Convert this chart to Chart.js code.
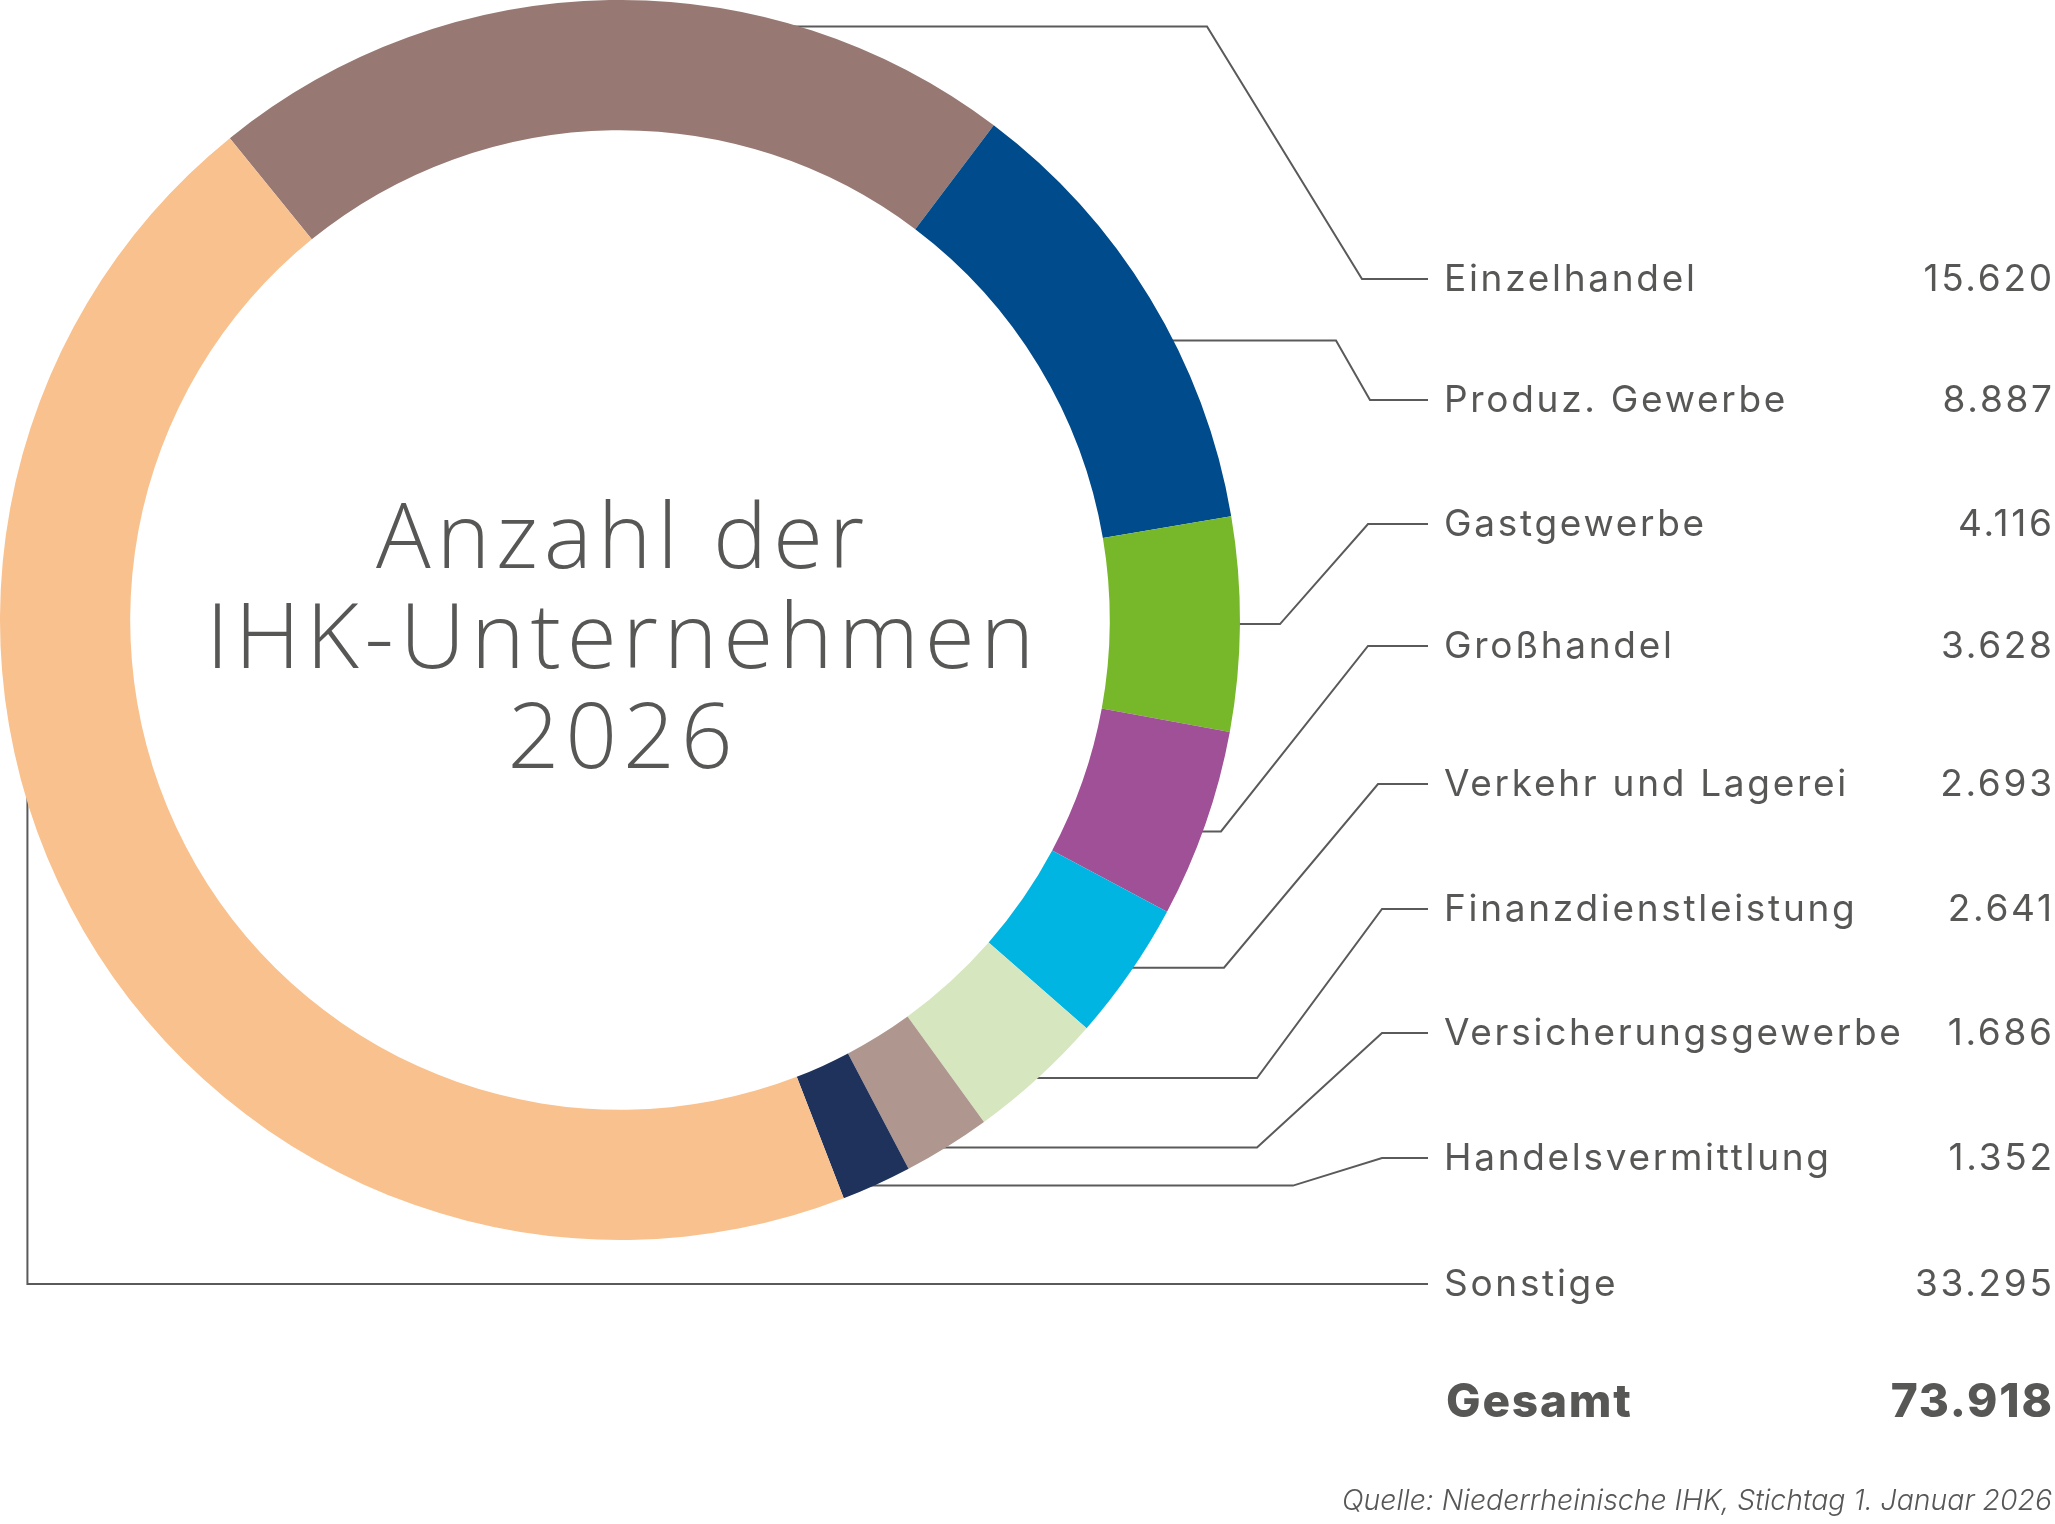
<!DOCTYPE html>
<html lang="de">
<head>
<meta charset="utf-8">
<title>Anzahl der IHK-Unternehmen 2026</title>
<script src="https://cdn.jsdelivr.net/npm/chart.js@4.4.1/dist/chart.umd.min.js"></script>
<style>
  html, body { margin: 0; padding: 0; background: #ffffff; }
  #wrap { width: 2055px; height: 1524px; position: relative; }
  canvas { display: block; }
</style>
</head>
<body>
<div id="wrap"><canvas id="c" width="2055" height="1524"></canvas></div>
<script>
// ---- data ----
const categories = ['Einzelhandel', 'Produz. Gewerbe', 'Gastgewerbe', 'Großhandel', 'Verkehr und Lagerei',
  'Finanzdienstleistung', 'Versicherungsgewerbe', 'Handelsvermittlung', 'Sonstige'];
const values = [15620, 8887, 4116, 3628, 2693, 2641, 1686, 1352, 33295];
const colors = ['#977872', '#004b8b', '#76b82a', '#a05096', '#00b5e2', '#d6e6bf', '#af978f', '#1f325b', '#f9c18d'];
const titleLines = ['Anzahl der', 'IHK-Unternehmen', '2026'];
const totalLabel = 'Gesamt';
const sourceText = 'Quelle: Niederrheinische IHK, Stichtag 1. Januar 2026';

// ---- layout (label rows and leader-line elbows) ----
const rowY = [279, 400, 524, 646, 784, 909, 1033, 1158, 1284];
const leaderT = [0.734, 0.604, 0.5, 0.54, 0.46, 0.5, 0.52, 0.54, 0.58];
const elbow1 = [1207, 1336, 1280, 1221, 1224, 1257, 1257, 1293, null];
const elbow2 = [1362, 1370, 1368, 1368, 1378, 1382, 1382, 1382, null];
const labelX = 1444, lineEndX = 1428, valueX = 2052;
const totalY = 1400, sourceY = 1500;
const textColor = '#575756';

function fmt(n) { return String(n).replace(/\B(?=(\d{3})+(?!\d))/g, '.'); }

const overlay = {
  id: 'overlay',
  beforeDatasetsDraw(chart) {
    const ctx = chart.ctx;
    const arcs = chart.getDatasetMeta(0).data;
    ctx.save();
    ctx.strokeStyle = '#5a5a5a';
    ctx.lineWidth = 2;
    ctx.lineJoin = 'miter';
    arcs.forEach((arc, i) => {
      const p = arc.getProps(['x', 'y', 'startAngle', 'endAngle', 'outerRadius'], true);
      const a = p.startAngle + leaderT[i] * (p.endAngle - p.startAngle);
      const R = p.outerRadius;
      const ax = p.x + R * Math.cos(a), ay = p.y + R * Math.sin(a);
      ctx.beginPath();
      if (elbow1[i] === null) {
        ctx.moveTo(ax, ay - 12);
        ctx.lineTo(ax, rowY[i]);
      } else {
        ctx.moveTo(ax - 12, ay);
        ctx.lineTo(elbow1[i], ay);
        ctx.lineTo(elbow2[i], rowY[i]);
      }
      ctx.lineTo(lineEndX, rowY[i]);
      ctx.stroke();
    });
    ctx.restore();
  },
  afterDraw(chart) {
    const ctx = chart.ctx;
    const arc0 = chart.getDatasetMeta(0).data[0];
    const cx = arc0.x, cy = arc0.y;
    ctx.save();
    ctx.fillStyle = textColor;
    // centre title
    ctx.textAlign = 'center';
    ctx.textBaseline = 'alphabetic';
    ctx.font = '300 91px "Open Sans", Inter, sans-serif';
    ctx.letterSpacing = '5.8px';
    titleLines.forEach((t, k) => ctx.fillText(t, cx + 3, cy - 52 + k * 100));
    // labels + values
    ctx.font = '400 37px Inter, "Open Sans", sans-serif';
    ctx.letterSpacing = '2.7px';
    categories.forEach((c, i) => {
      ctx.textAlign = 'left';
      ctx.fillText(c, labelX, rowY[i] + 12);
      ctx.textAlign = 'right';
      ctx.fillText(fmt(values[i]), valueX + 2.7, rowY[i] + 12);
    });
    // total
    const total = values.reduce((s, v) => s + v, 0);
    ctx.font = '800 46px Inter, "Open Sans", sans-serif';
    ctx.letterSpacing = '1.8px';
    ctx.textAlign = 'left';
    ctx.fillText(totalLabel, labelX + 2, totalY + 17);
    ctx.textAlign = 'right';
    ctx.fillText(fmt(total), valueX + 1.8, totalY + 17);
    // source
    ctx.font = 'italic 300 28.4px Inter, "Open Sans", sans-serif';
    ctx.letterSpacing = '0px';
    ctx.fillText(sourceText, valueX, sourceY + 10);
    ctx.restore();
  }
};

new Chart(document.getElementById('c'), {
  type: 'doughnut',
  data: {
    labels: categories,
    datasets: [{
      data: values,
      backgroundColor: colors,
      borderWidth: 0,
      hoverOffset: 0
    }]
  },
  options: {
    responsive: false,
    devicePixelRatio: 1,
    animation: false,
    rotation: -39,
    cutout: '79%',
    layout: { padding: { left: 0, top: 0, right: 815, bottom: 284 } },
    plugins: { legend: { display: false }, tooltip: { enabled: false } }
  },
  plugins: [overlay]
});
</script>
</body>
</html>
